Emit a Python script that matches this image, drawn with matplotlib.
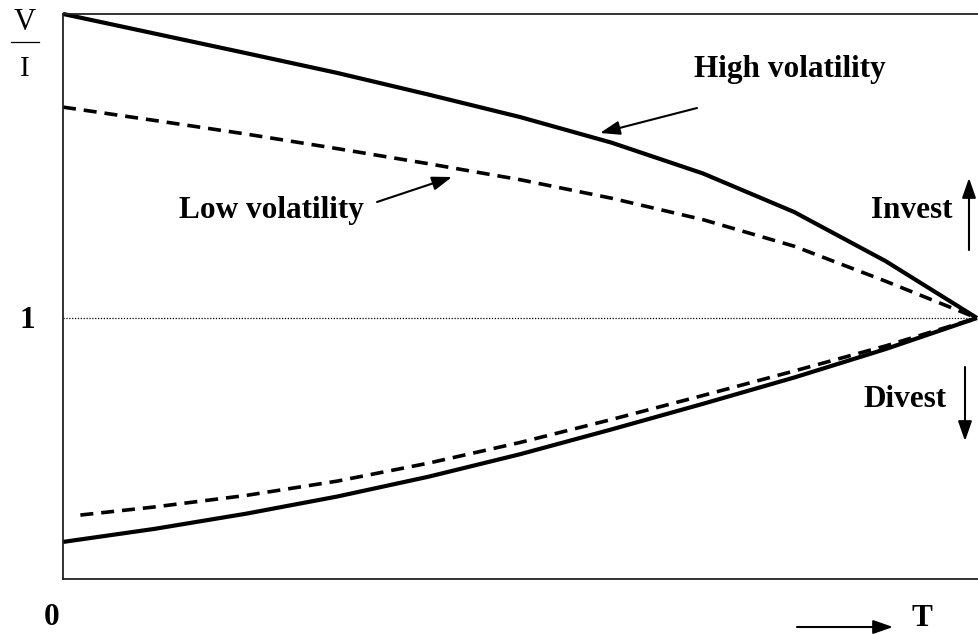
import matplotlib
matplotlib.use("Agg")
import matplotlib.pyplot as plt

# ---- data ----
T = [0.0, 0.1, 0.2, 0.3, 0.4, 0.5, 0.6, 0.7, 0.8, 0.9, 1.0]
high_upper = [2.165, 2.090, 2.015, 1.939, 1.856, 1.770, 1.672, 1.554, 1.406, 1.218, 1.0]
low_upper = [1.808, 1.757, 1.705, 1.649, 1.591, 1.530, 1.459, 1.377, 1.275, 1.141, 1.0]
T_low_lower = [0.019, 0.1, 0.2, 0.3, 0.4, 0.5, 0.6, 0.7, 0.8, 0.9, 1.0]
low_lower = [0.245, 0.276, 0.320, 0.375, 0.444, 0.523, 0.611, 0.703, 0.797, 0.893, 1.0]
high_lower = [0.142, 0.192, 0.250, 0.316, 0.392, 0.478, 0.573, 0.671, 0.772, 0.881, 1.0]
threshold = 1.0

W, H = 979, 634
fig = plt.figure(figsize=(W / 100, H / 100), dpi=100)
ax = fig.add_axes([63 / W, (H - 579) / H, (981 - 63) / W, 565 / H])
ax.set_xlim(0, (981 - 63) / 914)
ax.set_ylim(0, 565 / 261)

serif = ["Liberation Serif", "DejaVu Serif"]

def d(px, py):
    return ((px - 63) / 914, 1 + (318 - py) / 261)

ax.axhline(threshold, xmin=0, xmax=914 / 918, color="black", lw=0.9, ls=(0, (1, 1.3)))
ax.plot(T, high_upper, color="black", lw=3.0, solid_capstyle="butt",
        solid_joinstyle="round", clip_on=False)
ax.plot(T, high_lower, color="black", lw=3.0, solid_capstyle="butt",
        solid_joinstyle="round", clip_on=False)
ax.plot(T, low_upper, color="black", lw=2.6, dashes=(3.6, 2.2), clip_on=False)
ax.plot(T_low_lower, low_lower, color="black", lw=2.6, dashes=(3.6, 2.2), clip_on=False)

for s in ["left", "bottom", "top"]:
    ax.spines[s].set_linewidth(1.3)
    ax.spines[s].set_color("#222222")
ax.spines["right"].set_visible(False)
ax.set_xticks([])
ax.set_yticks([])

bold = dict(family=serif, fontweight="bold", fontsize=22.5, color="black")
arrowprops = dict(arrowstyle="-|>,head_length=1.2,head_width=0.42", color="black", lw=1.5,
                  shrinkA=0, shrinkB=0)

ax.text(*d(790, 77), "High volatility", ha="center", va="baseline", **bold)
ax.annotate("", xy=d(600, 133), xytext=d(697, 108), arrowprops=arrowprops)
ax.text(*d(271, 218), "Low volatility", ha="center", va="baseline", **bold)
ax.annotate("", xy=d(452, 177), xytext=d(377, 202), arrowprops=arrowprops)
ax.text(*d(912, 218), "Invest", ha="center", va="baseline", **bold)
ax.annotate("", xy=d(969, 178), xytext=d(969, 250), arrowprops=arrowprops, annotation_clip=False)
ax.text(*d(905, 407), "Divest", ha="center", va="baseline", **bold)
ax.annotate("", xy=d(965, 441), xytext=d(965, 367), arrowprops=arrowprops, annotation_clip=False)

# axis labels
fig.text(27 / W, 1 - 328 / H, "1", ha="center", va="baseline", **bold)
fig.text(52 / W, 1 - 625 / H, "0", ha="center", va="baseline", **bold)
fig.text(922 / W, 1 - 626 / H, "T", ha="center", va="baseline", **bold)
ax.annotate("", xy=d(893, 627), xytext=d(797, 627), arrowprops=arrowprops, annotation_clip=False)

fig.text(25 / W, 1 - 30 / H, "V", ha="center", va="baseline", family=serif, fontsize=22)
fig.text(25 / W, 1 - 76 / H, "I", ha="center", va="baseline", family=serif, fontsize=21)
fig.add_artist(plt.Line2D([11 / W, 39 / W], [1 - 42 / H, 1 - 42 / H], color="black", lw=0.9))

fig.savefig("out.png", dpi=100)
